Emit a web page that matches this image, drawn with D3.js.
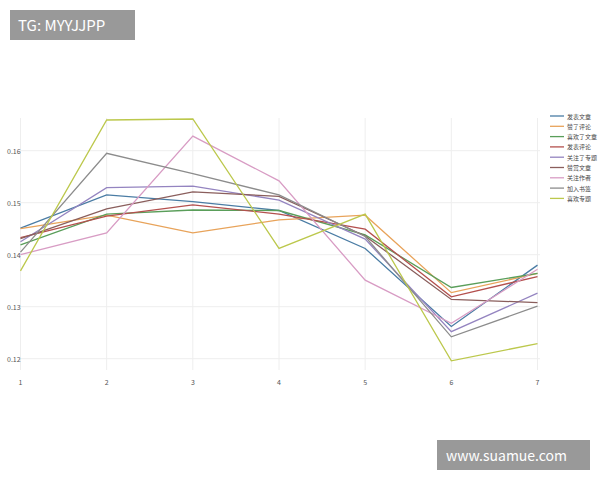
<!DOCTYPE html>
<html><head><meta charset="utf-8">
<script src="https://cdn.jsdelivr.net/npm/d3@7"></script>
<style>body{margin:0;background:#fff;font-family:"Noto Sans CJK SC","Open Sans",sans-serif}</style>
</head><body>
<script>
// data
const steps = [1, 2, 3, 4, 5, 6, 7];
const names = ["发表文章", "赞了评论", "喜欢了文章", "发表评论", "关注了专题", "赞赏文章", "关注作者", "加入书签", "喜欢专题"];
const colors = ["#4a7ca4", "#e8a35a", "#5a9e5a", "#b4504e", "#9484c0", "#8a5e5c", "#d89cc4", "#8c8c8c", "#bcc84c"];
const values = [
  [0.1451, 0.1515, 0.1502, 0.1485, 0.1412, 0.1262, 0.1380],
  [0.1450, 0.1476, 0.1442, 0.1467, 0.1476, 0.1327, 0.1364],
  [0.1419, 0.1478, 0.1486, 0.1485, 0.1438, 0.1337, 0.1364],
  [0.1433, 0.1474, 0.1496, 0.1478, 0.1449, 0.1319, 0.1358],
  [0.1425, 0.1529, 0.1532, 0.1505, 0.1430, 0.1252, 0.1326],
  [0.1431, 0.1488, 0.1521, 0.1512, 0.1436, 0.1314, 0.1308],
  [0.1400, 0.1442, 0.1628, 0.1542, 0.1351, 0.1268, 0.1372],
  [0.1405, 0.1595, 0.1556, 0.1515, 0.1435, 0.1242, 0.1301],
  [0.1369, 0.1659, 0.1661, 0.1412, 0.1478, 0.1196, 0.1229]
];
const yTicks = [0.12, 0.13, 0.14, 0.15, 0.16];

const svg = d3.select("body").append("svg").attr("width", 600).attr("height", 480);
const x = d3.scaleLinear().domain([1, 7]).range([20.5, 537.5]);
const y = d3.scaleLinear().domain([0.12, 0.16]).range([358.7, 150.7]);

// grid
svg.selectAll(".gy").data(yTicks).enter().append("line")
  .attr("x1", 20).attr("x2", 540).attr("y1", y).attr("y2", y)
  .attr("stroke", "#eee");
svg.selectAll(".gx").data(steps).enter().append("line")
  .attr("x1", x).attr("x2", x).attr("y1", 118).attr("y2", 370)
  .attr("stroke", "#eee");

svg.selectAll(".yl").data(yTicks).enter().append("text")
  .attr("x", 7).attr("y", d => y(d) + 3)
  .attr("font-size", 7).attr("fill", "#555").text(d => d.toFixed(2));
svg.selectAll(".xl").data(steps).enter().append("text")
  .attr("x", x).attr("y", 385).attr("text-anchor", "middle")
  .attr("font-size", 7).attr("fill", "#555").text(d => d);

const line = d3.line().x((d, i) => x(steps[i])).y(d => y(d));
svg.selectAll(".s").data(values).enter().append("path")
  .attr("d", line).attr("fill", "none")
  .attr("stroke", (d, i) => colors[i]).attr("stroke-width", 1.3);

// legend
const lg = svg.selectAll(".lg").data(names).enter().append("g")
  .attr("transform", (d, i) => `translate(550,${116 + i * 10.3})`);
lg.append("line").attr("x1", 0).attr("x2", 14).attr("stroke", (d, i) => colors[i]).attr("stroke-width", 1.3);
lg.append("text").attr("x", 17).attr("y", 2.5).attr("font-size", 6).attr("fill", "#444").text(d => d);

// watermarks
svg.append("rect").attr("x", 10).attr("y", 10).attr("width", 125).attr("height", 30).attr("fill", "#999");
svg.append("text").attr("x", 18).attr("y", 31).attr("font-size", 15).attr("fill", "#fff").text("TG: MYYJJPP");
svg.append("rect").attr("x", 437).attr("y", 440).attr("width", 153).attr("height", 30).attr("fill", "#999");
svg.append("text").attr("x", 446).attr("y", 461).attr("font-size", 14).attr("fill", "#fff").text("www.suamue.com");
</script>
</body></html>
